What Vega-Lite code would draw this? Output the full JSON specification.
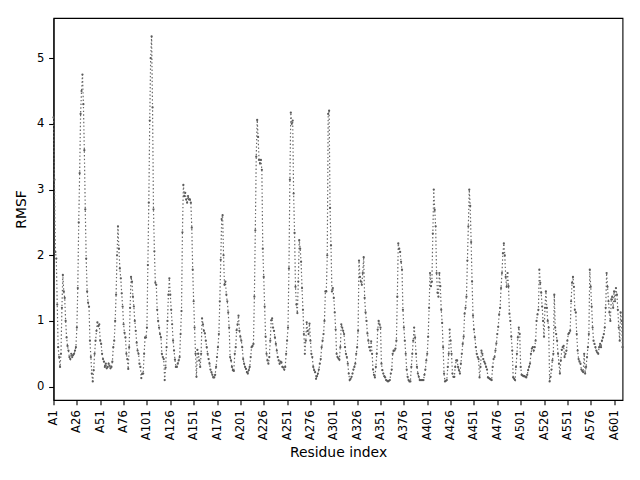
{
"$schema": "https://vega.github.io/schema/vega-lite/v6.json",
"width": 569, "height": 382,
"autosize": {"type": "none"},
"padding": {"left": 53.5, "top": 18, "right": 17.5, "bottom": 80},
"background": "white",
"config": {
 "view": {"stroke": "black", "strokeWidth": 1.1},
 "axis": {"grid": false, "domainColor": "black", "tickColor": "black", "domainWidth": 1.1, "tickWidth": 1.1, "tickSize": 4.86,
  "labelFont": "DejaVu Sans", "labelFontSize": 11.6, "labelColor": "black", "labelPadding": 4.86,
  "titleFont": "DejaVu Sans", "titleFontSize": 13.9, "titleFontWeight": "normal", "titleColor": "black"}
},
"data": {"values": [
{"r":1,"v":4.1},{"r":2,"v":3.15},{"r":3,"v":2.05},{"r":4,"v":1.95},{"r":5,"v":1.25},{"r":6,"v":0.6},{"r":7,"v":0.45},{"r":8,"v":0.3},{"r":9,"v":0.5},{"r":10,"v":1.2},
{"r":11,"v":1.7},{"r":12,"v":1.45},{"r":13,"v":1.35},{"r":14,"v":1.0},{"r":15,"v":0.75},{"r":16,"v":0.62},{"r":17,"v":0.55},{"r":18,"v":0.45},{"r":19,"v":0.42},{"r":20,"v":0.5},
{"r":21,"v":0.45},{"r":22,"v":0.48},{"r":23,"v":0.5},{"r":24,"v":0.55},{"r":25,"v":0.6},{"r":26,"v":0.9},{"r":27,"v":1.5},{"r":28,"v":2.5},{"r":29,"v":3.25},{"r":30,"v":4.15},
{"r":31,"v":4.5},{"r":32,"v":4.75},{"r":33,"v":4.3},{"r":34,"v":3.6},{"r":35,"v":2.7},{"r":36,"v":1.95},{"r":37,"v":1.45},{"r":38,"v":1.28},{"r":39,"v":1.22},{"r":40,"v":0.7},
{"r":41,"v":0.45},{"r":42,"v":0.2},{"r":43,"v":0.08},{"r":44,"v":0.25},{"r":45,"v":0.5},{"r":46,"v":0.7},{"r":47,"v":0.85},{"r":48,"v":0.98},{"r":49,"v":0.92},{"r":50,"v":0.95},
{"r":51,"v":0.7},{"r":52,"v":0.65},{"r":53,"v":0.5},{"r":54,"v":0.42},{"r":55,"v":0.38},{"r":56,"v":0.3},{"r":57,"v":0.35},{"r":58,"v":0.28},{"r":59,"v":0.3},{"r":60,"v":0.35},
{"r":61,"v":0.32},{"r":62,"v":0.28},{"r":63,"v":0.3},{"r":64,"v":0.38},{"r":65,"v":0.6},{"r":66,"v":0.7},{"r":67,"v":1.0},{"r":68,"v":1.4},{"r":69,"v":2.0},{"r":70,"v":2.44},
{"r":71,"v":2.1},{"r":72,"v":1.8},{"r":73,"v":1.65},{"r":74,"v":1.42},{"r":75,"v":1.22},{"r":76,"v":0.95},{"r":77,"v":0.82},{"r":78,"v":0.75},{"r":79,"v":0.5},{"r":80,"v":0.42},
{"r":81,"v":0.27},{"r":82,"v":0.6},{"r":83,"v":1.2},{"r":84,"v":1.67},{"r":85,"v":1.6},{"r":86,"v":1.37},{"r":87,"v":1.22},{"r":88,"v":1.0},{"r":89,"v":0.85},{"r":90,"v":0.67},
{"r":91,"v":0.55},{"r":92,"v":0.5},{"r":93,"v":0.35},{"r":94,"v":0.3},{"r":95,"v":0.13},{"r":96,"v":0.2},{"r":97,"v":0.2},{"r":98,"v":0.5},{"r":99,"v":0.75},{"r":100,"v":0.75},
{"r":101,"v":0.9},{"r":102,"v":1.85},{"r":103,"v":2.8},{"r":104,"v":4.05},{"r":105,"v":5.0},{"r":106,"v":5.33},{"r":107,"v":4.25},{"r":108,"v":2.7},{"r":109,"v":2.06},{"r":110,"v":1.58},
{"r":111,"v":1.55},{"r":112,"v":1.17},{"r":113,"v":1.0},{"r":114,"v":0.9},{"r":115,"v":0.8},{"r":116,"v":0.75},{"r":117,"v":0.5},{"r":118,"v":0.45},{"r":119,"v":0.42},{"r":120,"v":0.1},
{"r":121,"v":0.29},{"r":122,"v":0.6},{"r":123,"v":1.0},{"r":124,"v":1.4},{"r":125,"v":1.65},{"r":126,"v":1.4},{"r":127,"v":1.17},{"r":128,"v":0.95},{"r":129,"v":0.7},{"r":130,"v":0.55},
{"r":131,"v":0.41},{"r":132,"v":0.3},{"r":133,"v":0.3},{"r":134,"v":0.35},{"r":135,"v":0.4},{"r":136,"v":0.45},{"r":137,"v":0.8},{"r":138,"v":1.15},{"r":139,"v":2.35},{"r":140,"v":3.07},
{"r":141,"v":2.9},{"r":142,"v":2.95},{"r":143,"v":2.85},{"r":144,"v":2.8},{"r":145,"v":2.9},{"r":146,"v":2.85},{"r":147,"v":2.85},{"r":148,"v":2.8},{"r":149,"v":2.42},{"r":150,"v":1.78},
{"r":151,"v":1.3},{"r":152,"v":0.9},{"r":153,"v":0.5},{"r":154,"v":0.15},{"r":155,"v":0.56},{"r":156,"v":0.5},{"r":157,"v":0.4},{"r":158,"v":0.3},{"r":159,"v":0.5},{"r":160,"v":1.04},
{"r":161,"v":0.95},{"r":162,"v":0.85},{"r":163,"v":0.81},{"r":164,"v":0.7},{"r":165,"v":0.6},{"r":166,"v":0.5},{"r":167,"v":0.42},{"r":168,"v":0.35},{"r":169,"v":0.26},{"r":170,"v":0.22},
{"r":171,"v":0.18},{"r":172,"v":0.14},{"r":173,"v":0.14},{"r":174,"v":0.18},{"r":175,"v":0.3},{"r":176,"v":0.45},{"r":177,"v":0.6},{"r":178,"v":0.8},{"r":179,"v":1.3},{"r":180,"v":1.93},
{"r":181,"v":2.55},{"r":182,"v":2.61},{"r":183,"v":2.0},{"r":184,"v":1.55},{"r":185,"v":1.6},{"r":186,"v":1.4},{"r":187,"v":1.3},{"r":188,"v":1.13},{"r":189,"v":0.9},{"r":190,"v":0.45},
{"r":191,"v":0.4},{"r":192,"v":0.3},{"r":193,"v":0.25},{"r":194,"v":0.24},{"r":195,"v":0.5},{"r":196,"v":0.6},{"r":197,"v":0.86},{"r":198,"v":0.95},{"r":199,"v":1.08},{"r":200,"v":0.85},
{"r":201,"v":0.76},{"r":202,"v":0.7},{"r":203,"v":0.6},{"r":204,"v":0.42},{"r":205,"v":0.35},{"r":206,"v":0.3},{"r":207,"v":0.27},{"r":208,"v":0.22},{"r":209,"v":0.2},{"r":210,"v":0.25},
{"r":211,"v":0.3},{"r":212,"v":0.45},{"r":213,"v":0.6},{"r":214,"v":0.62},{"r":215,"v":0.65},{"r":216,"v":1.37},{"r":217,"v":2.38},{"r":218,"v":3.5},{"r":219,"v":4.06},{"r":220,"v":3.8},
{"r":221,"v":3.45},{"r":222,"v":3.4},{"r":223,"v":3.45},{"r":224,"v":3.3},{"r":225,"v":2.1},{"r":226,"v":1.67},{"r":227,"v":1.22},{"r":228,"v":0.76},{"r":229,"v":0.5},{"r":230,"v":0.4},
{"r":231,"v":0.35},{"r":232,"v":0.45},{"r":233,"v":0.7},{"r":234,"v":1.01},{"r":235,"v":1.04},{"r":236,"v":0.9},{"r":237,"v":0.85},{"r":238,"v":0.75},{"r":239,"v":0.65},{"r":240,"v":0.55},
{"r":241,"v":0.45},{"r":242,"v":0.4},{"r":243,"v":0.35},{"r":244,"v":0.38},{"r":245,"v":0.37},{"r":246,"v":0.3},{"r":247,"v":0.29},{"r":248,"v":0.26},{"r":249,"v":0.3},{"r":250,"v":0.5},
{"r":251,"v":0.7},{"r":252,"v":0.9},{"r":253,"v":1.8},{"r":254,"v":3.15},{"r":255,"v":4.17},{"r":256,"v":4.0},{"r":257,"v":4.05},{"r":258,"v":2.94},{"r":259,"v":2.34},{"r":260,"v":1.52},
{"r":261,"v":1.25},{"r":262,"v":1.12},{"r":263,"v":1.6},{"r":264,"v":2.23},{"r":265,"v":2.1},{"r":266,"v":1.9},{"r":267,"v":1.5},{"r":268,"v":1.17},{"r":269,"v":0.8},{"r":270,"v":0.5},
{"r":271,"v":0.7},{"r":272,"v":0.98},{"r":273,"v":0.85},{"r":274,"v":0.8},{"r":275,"v":0.96},{"r":276,"v":0.7},{"r":277,"v":0.5},{"r":278,"v":0.45},{"r":279,"v":0.3},{"r":280,"v":0.25},
{"r":281,"v":0.22},{"r":282,"v":0.12},{"r":283,"v":0.16},{"r":284,"v":0.2},{"r":285,"v":0.26},{"r":286,"v":0.35},{"r":287,"v":0.42},{"r":288,"v":0.6},{"r":289,"v":0.7},{"r":290,"v":0.8},
{"r":291,"v":1.0},{"r":292,"v":1.45},{"r":293,"v":1.45},{"r":294,"v":2.0},{"r":295,"v":4.15},{"r":296,"v":4.2},{"r":297,"v":2.72},{"r":298,"v":2.15},{"r":299,"v":1.45},{"r":300,"v":1.5},
{"r":301,"v":1.35},{"r":302,"v":1.13},{"r":303,"v":0.87},{"r":304,"v":0.5},{"r":305,"v":0.45},{"r":306,"v":0.43},{"r":307,"v":0.41},{"r":308,"v":0.6},{"r":309,"v":0.95},{"r":310,"v":0.9},
{"r":311,"v":0.85},{"r":312,"v":0.8},{"r":313,"v":0.6},{"r":314,"v":0.5},{"r":315,"v":0.45},{"r":316,"v":0.35},{"r":317,"v":0.2},{"r":318,"v":0.1},{"r":319,"v":0.12},{"r":320,"v":0.15},
{"r":321,"v":0.2},{"r":322,"v":0.26},{"r":323,"v":0.3},{"r":324,"v":0.35},{"r":325,"v":0.5},{"r":326,"v":0.6},{"r":327,"v":0.85},{"r":328,"v":1.92},{"r":329,"v":1.67},{"r":330,"v":1.6},
{"r":331,"v":1.55},{"r":332,"v":1.73},{"r":333,"v":1.97},{"r":334,"v":1.35},{"r":335,"v":1.13},{"r":336,"v":1.0},{"r":337,"v":0.81},{"r":338,"v":0.7},{"r":339,"v":0.6},{"r":340,"v":0.55},
{"r":341,"v":0.69},{"r":342,"v":0.5},{"r":343,"v":0.26},{"r":344,"v":0.18},{"r":345,"v":0.14},{"r":346,"v":0.3},{"r":347,"v":0.5},{"r":348,"v":0.87},{"r":349,"v":1.0},{"r":350,"v":0.95},
{"r":351,"v":0.9},{"r":352,"v":0.35},{"r":353,"v":0.25},{"r":354,"v":0.2},{"r":355,"v":0.16},{"r":356,"v":0.14},{"r":357,"v":0.1},{"r":358,"v":0.09},{"r":359,"v":0.08},{"r":360,"v":0.09},
{"r":361,"v":0.1},{"r":362,"v":0.2},{"r":363,"v":0.26},{"r":364,"v":0.5},{"r":365,"v":0.55},{"r":366,"v":0.55},{"r":367,"v":0.58},{"r":368,"v":0.7},{"r":369,"v":1.37},{"r":370,"v":2.18},
{"r":371,"v":2.1},{"r":372,"v":2.05},{"r":373,"v":1.9},{"r":374,"v":1.78},{"r":375,"v":1.17},{"r":376,"v":0.9},{"r":377,"v":0.7},{"r":378,"v":0.5},{"r":379,"v":0.26},{"r":380,"v":0.15},
{"r":381,"v":0.1},{"r":382,"v":0.08},{"r":383,"v":0.08},{"r":384,"v":0.3},{"r":385,"v":0.5},{"r":386,"v":0.7},{"r":387,"v":0.9},{"r":388,"v":0.75},{"r":389,"v":0.5},{"r":390,"v":0.3},
{"r":391,"v":0.2},{"r":392,"v":0.15},{"r":393,"v":0.1},{"r":394,"v":0.1},{"r":395,"v":0.1},{"r":396,"v":0.1},{"r":397,"v":0.1},{"r":398,"v":0.18},{"r":399,"v":0.26},{"r":400,"v":0.4},
{"r":401,"v":0.5},{"r":402,"v":0.76},{"r":403,"v":1.2},{"r":404,"v":1.73},{"r":405,"v":1.53},{"r":406,"v":1.6},{"r":407,"v":2.33},{"r":408,"v":3.0},{"r":409,"v":2.69},{"r":410,"v":2.44},
{"r":411,"v":1.73},{"r":412,"v":1.43},{"r":413,"v":1.37},{"r":414,"v":1.73},{"r":415,"v":1.53},{"r":416,"v":1.17},{"r":417,"v":0.97},{"r":418,"v":0.6},{"r":419,"v":0.2},{"r":420,"v":0.08},
{"r":421,"v":0.09},{"r":422,"v":0.1},{"r":423,"v":0.3},{"r":424,"v":0.5},{"r":425,"v":0.87},{"r":426,"v":0.7},{"r":427,"v":0.5},{"r":428,"v":0.2},{"r":429,"v":0.15},{"r":430,"v":0.15},
{"r":431,"v":0.3},{"r":432,"v":0.4},{"r":433,"v":0.4},{"r":434,"v":0.3},{"r":435,"v":0.25},{"r":436,"v":0.2},{"r":437,"v":0.35},{"r":438,"v":0.5},{"r":439,"v":0.65},{"r":440,"v":0.76},
{"r":441,"v":1.11},{"r":442,"v":1.2},{"r":443,"v":1.37},{"r":444,"v":1.92},{"r":445,"v":2.44},{"r":446,"v":3.0},{"r":447,"v":2.75},{"r":448,"v":2.2},{"r":449,"v":1.6},{"r":450,"v":1.08},
{"r":451,"v":0.87},{"r":452,"v":0.75},{"r":453,"v":0.6},{"r":454,"v":0.5},{"r":455,"v":0.45},{"r":456,"v":0.42},{"r":457,"v":0.14},{"r":458,"v":0.3},{"r":459,"v":0.55},{"r":460,"v":0.5},
{"r":461,"v":0.42},{"r":462,"v":0.38},{"r":463,"v":0.35},{"r":464,"v":0.3},{"r":465,"v":0.26},{"r":466,"v":0.14},{"r":467,"v":0.13},{"r":468,"v":0.12},{"r":469,"v":0.11},{"r":470,"v":0.1},
{"r":471,"v":0.3},{"r":472,"v":0.42},{"r":473,"v":0.45},{"r":474,"v":0.55},{"r":475,"v":0.66},{"r":476,"v":0.8},{"r":477,"v":0.91},{"r":478,"v":1.1},{"r":479,"v":1.2},{"r":480,"v":1.5},
{"r":481,"v":1.73},{"r":482,"v":2.03},{"r":483,"v":2.18},{"r":484,"v":2.0},{"r":485,"v":1.67},{"r":486,"v":1.52},{"r":487,"v":1.73},{"r":488,"v":1.53},{"r":489,"v":1.11},{"r":490,"v":1.0},
{"r":491,"v":0.76},{"r":492,"v":0.55},{"r":493,"v":0.14},{"r":494,"v":0.12},{"r":495,"v":0.1},{"r":496,"v":0.3},{"r":497,"v":0.5},{"r":498,"v":0.75},{"r":499,"v":0.9},{"r":500,"v":0.8},
{"r":501,"v":0.3},{"r":502,"v":0.18},{"r":503,"v":0.17},{"r":504,"v":0.16},{"r":505,"v":0.16},{"r":506,"v":0.15},{"r":507,"v":0.14},{"r":508,"v":0.18},{"r":509,"v":0.25},{"r":510,"v":0.3},
{"r":511,"v":0.35},{"r":512,"v":0.5},{"r":513,"v":0.58},{"r":514,"v":0.6},{"r":515,"v":0.55},{"r":516,"v":0.6},{"r":517,"v":0.7},{"r":518,"v":1.0},{"r":519,"v":1.1},{"r":520,"v":1.17},
{"r":521,"v":1.78},{"r":522,"v":1.58},{"r":523,"v":1.43},{"r":524,"v":1.22},{"r":525,"v":1.0},{"r":526,"v":0.76},{"r":527,"v":1.2},{"r":528,"v":1.45},{"r":529,"v":1.2},{"r":530,"v":1.0},
{"r":531,"v":0.9},{"r":532,"v":0.08},{"r":533,"v":0.15},{"r":534,"v":0.26},{"r":535,"v":0.4},{"r":536,"v":0.5},{"r":537,"v":1.4},{"r":538,"v":0.9},{"r":539,"v":0.8},{"r":540,"v":0.7},
{"r":541,"v":0.5},{"r":542,"v":0.35},{"r":543,"v":0.2},{"r":544,"v":0.4},{"r":545,"v":0.56},{"r":546,"v":0.6},{"r":547,"v":0.62},{"r":548,"v":0.45},{"r":549,"v":0.5},{"r":550,"v":0.55},
{"r":551,"v":0.7},{"r":552,"v":0.8},{"r":553,"v":0.82},{"r":554,"v":0.85},{"r":555,"v":1.3},{"r":556,"v":1.58},{"r":557,"v":1.67},{"r":558,"v":1.52},{"r":559,"v":1.17},{"r":560,"v":1.13},
{"r":561,"v":0.8},{"r":562,"v":0.55},{"r":563,"v":0.42},{"r":564,"v":0.38},{"r":565,"v":0.35},{"r":566,"v":0.26},{"r":567,"v":0.24},{"r":568,"v":0.22},{"r":569,"v":0.5},{"r":570,"v":0.2},
{"r":571,"v":0.3},{"r":572,"v":0.45},{"r":573,"v":0.6},{"r":574,"v":0.8},{"r":575,"v":1.78},{"r":576,"v":1.52},{"r":577,"v":1.22},{"r":578,"v":0.9},{"r":579,"v":0.7},{"r":580,"v":0.65},
{"r":581,"v":0.6},{"r":582,"v":0.55},{"r":583,"v":0.52},{"r":584,"v":0.5},{"r":585,"v":0.6},{"r":586,"v":0.65},{"r":587,"v":0.6},{"r":588,"v":0.7},{"r":589,"v":0.75},{"r":590,"v":0.8},
{"r":591,"v":0.9},{"r":592,"v":1.2},{"r":593,"v":1.73},{"r":594,"v":1.52},{"r":595,"v":1.3},{"r":596,"v":1.13},{"r":597,"v":1.0},{"r":598,"v":1.33},{"r":599,"v":1.37},{"r":600,"v":1.2},
{"r":601,"v":1.45},{"r":602,"v":1.3},{"r":603,"v":1.5},{"r":604,"v":1.4},{"r":605,"v":1.17},{"r":606,"v":0.9},{"r":607,"v":0.7},{"r":608,"v":1.13},{"r":609,"v":1.0},{"r":610,"v":0.6}
]},
"encoding": {
 "x": {"field": "r", "type": "quantitative", "scale": {"domain": [1, 610], "nice": false, "zero": false},
  "axis": {"values": [1,26,51,76,101,126,151,176,201,226,251,276,301,326,351,376,401,426,451,476,501,526,551,576,601],
   "labelExpr": "'A' + datum.value", "labelAngle": 270, "labelOverlap": false, "labelFlush": false, "title": "Residue index", "titlePadding": 6}},
 "y": {"field": "v", "type": "quantitative", "scale": {"domain": [-0.203, 5.611], "nice": false, "zero": false},
  "axis": {"values": [0,1,2,3,4,5], "labelFlush": false, "title": "RMSF", "titlePadding": 8}}
},
"layer": [
 {"mark": {"type": "line", "color": "#666666", "strokeWidth": 1.2, "strokeDash": [1.4, 2.3]}},
 {"mark": {"type": "point", "filled": true, "color": "#5a5a5a", "size": 5, "opacity": 1}}
]
}
